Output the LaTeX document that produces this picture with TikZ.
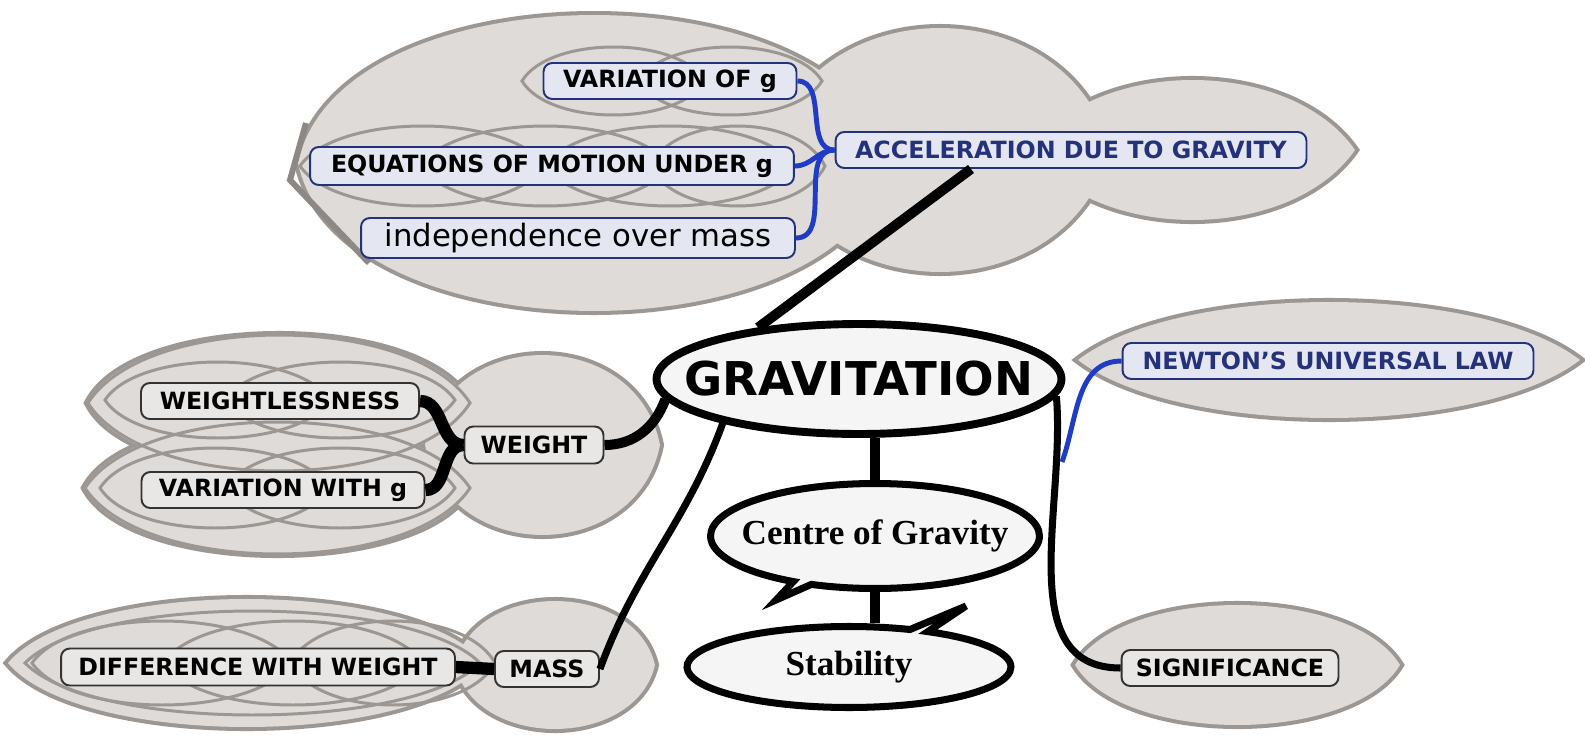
\documentclass[tikz,border=0pt]{standalone}
\usepackage{fontspec}
\setmainfont{DejaVu Sans}
\newfontfamily\timesb{Liberation Serif}
\usetikzlibrary{shapes.geometric,shapes.callouts}
\definecolor{blobfill}{HTML}{DEDBD8}
\definecolor{blobline}{HTML}{9C9792}
\definecolor{itemfill}{HTML}{E9E7E5}
\definecolor{itemblue}{HTML}{E4E6F2}
\definecolor{navy}{HTML}{24327A}
\definecolor{linkblue}{HTML}{1F3CC8}
\definecolor{ovalfill}{HTML}{F5F5F5}
\tikzset{
  bline/.style  = {draw=blobline, line width=4.6pt},
  bfill/.style  = {fill=blobfill},
  binner/.style = {draw=blobline, line width=1.7pt},
  item/.style   = {draw=black!80, line width=1.1pt, rounded corners=5pt, fill=itemfill,
                   minimum height=7.2mm, inner sep=2pt,
                   font=\fontsize{13.5}{15}\selectfont\bfseries},
  bitem/.style  = {item, draw=navy, fill=itemblue},
  nitem/.style  = {bitem, text=navy},
  oval/.style   = {ellipse callout, draw, line width=4pt, fill=ovalfill, inner ysep=0pt,
                   callout pointer arc=7, font=\fontsize{20}{22}\selectfont\timesb\bfseries},
  ln/.style     = {line width=4pt},
  lnb/.style    = {line width=5.7pt},
  lnh/.style    = {line width=7pt},
  lnblue/.style = {draw=linkblue, line width=2.8pt}
}
% lens: left x, right x, y, half height, tip roundness
\newcommand{\blob}[5]{(#1,#3) .. controls ({#1+#5*(#2-#1)},{#3-1.333*#4}) and ({#2-#5*(#2-#1)},{#3-1.333*#4}) .. (#2,#3)
  .. controls ({#2-#5*(#2-#1)},{#3+1.333*#4}) and ({#1+#5*(#2-#1)},{#3+1.333*#4}) .. (#1,#3) -- cycle}

\begin{document}
\begin{tikzpicture}[x=0.02cm, y=-0.02cm]
  \useasboundingbox[fill=white] (0,0) rectangle (1585,734);

  % grey clouds
  \foreach \a/\b/\c/\h/\r in {298/890/163/148/0.07, 770/1110/150/122/0.12, 1030/1355/150/70/0.2,
      88/470/403/68/0.12, 85/470/488/66/0.12, 425/660/445/90/0.1, 8/485/663/64/0.15,
      455/655/665/64/0.1, 1078/1580/360/58/0.2, 1075/1400/665/60/0.15}
    \path[bline] \blob{\a}{\b}{\c}{\h}{\r};
  \foreach \a/\b/\c/\h/\r in {298/890/163/148/0.07, 770/1110/150/122/0.12, 1030/1355/150/70/0.2,
      88/470/403/68/0.12, 85/470/488/66/0.12, 425/660/445/90/0.1, 8/485/663/64/0.15,
      455/655/665/64/0.1, 1078/1580/360/58/0.2, 1075/1400/665/60/0.15}
    \path[bfill] \blob{\a}{\b}{\c}{\h}{\r};
  \foreach \a/\b/\c/\h in {522/705/81/34, 638/822/81/34, 300/545/166/40, 420/670/166/40,
      545/795/166/40, 650/825/166/40, 105/330/400/38, 225/455/400/38, 100/330/488/40,
      225/455/488/40, 88/470/403/68, 85/470/488/66, 32/292/663/42, 163/423/663/42,
      290/495/663/42, 25/480/663/52}
    \path[binner] \blob{\a}{\b}{\c}{\h}{0.15};
  \draw[blobline!90!black, line width=3.4pt] (306,123) -- (290,180) -- (369,263);

  \node[nitem, minimum width=94.2mm] (accel) at (1071,150) {ACCELERATION DUE TO GRAVITY};
  \node[bitem, minimum width=50.6mm] (varg) at (670,81) {VARIATION OF g};
  \node[bitem, minimum width=96.8mm, minimum height=7.6mm] (eqn) at (552,166) {EQUATIONS OF MOTION UNDER g};
  \node[bitem, minimum width=86.8mm, minimum height=8mm,
        font=\fontsize{17.5}{19}\selectfont] (indep) at (578,238) {independence over mass};

  \node[ellipse, draw, line width=4.5pt, fill=ovalfill, minimum width=81mm, minimum height=22mm,
        inner xsep=-20pt, inner ysep=0pt, font=\fontsize{26.5}{28}\selectfont\bfseries] (grav) at (859,379) {GRAVITATION};
  \node[oval, minimum width=65.8mm, minimum height=21mm, inner xsep=-15pt,
        callout absolute pointer={(776,600)}] (cog) at (875,536) {Centre of Gravity};
  \node[oval, minimum width=64.8mm, minimum height=16.2mm, inner xsep=0pt,
        callout absolute pointer={(966,606)}] (stab) at (849,667) {Stability};

  \node[nitem, minimum width=82.2mm] (newton) at (1328,361) {NEWTON'S UNIVERSAL LAW};
  \node[item, minimum width=55.6mm] (wless) at (280,401) {WEIGHTLESSNESS};
  \node[item, minimum width=56.6mm] (varwg) at (283,490) {VARIATION WITH g};
  \node[item, minimum width=27.8mm, minimum height=7.4mm] (weight) at (534,445) {WEIGHT};
  \node[item, minimum width=78.8mm, minimum height=7.4mm] (diff) at (258,667) {DIFFERENCE WITH WEIGHT};
  \node[item, minimum width=20.8mm] (mass) at (547,669) {MASS};
  \node[item, minimum width=43.4mm] (signif) at (1230,668) {SIGNIFICANCE};

  \draw[lnblue] (varg.east)  to[out=0,in=180] (accel.west);
  \draw[lnblue] (eqn.east)   to[out=0,in=180] (accel.west);
  \draw[lnblue] (indep.east) to[out=0,in=180] (accel.west);
  \draw[lnb] ([xshift=-20mm]accel.south) -- (grav.153);
  \draw[lnb] (weight.east) to[out=0,in=-110] (grav.186);
  \draw[lnh] (weight.west) to[out=180,in=0] (wless.east);
  \draw[lnh] (weight.west) to[out=180,in=0] (varwg.east);
  \draw[ln] (grav.198) to[out=-110,in=70] (mass.east);
  \draw[lnh] (diff.east) -- (mass.west);
  \draw[ln] (grav.-5) to[out=-85,in=180] (signif.west);
  \coordinate (nb) at (1062,462);
  \draw[lnblue] (nb) to[out=70,in=180] (newton.west);
  \draw[lnb] (grav.south -| cog.north) -- (cog.north);
  \draw[lnb] (cog.south) -- (cog.south |- stab.north);
\end{tikzpicture}
\end{document}
